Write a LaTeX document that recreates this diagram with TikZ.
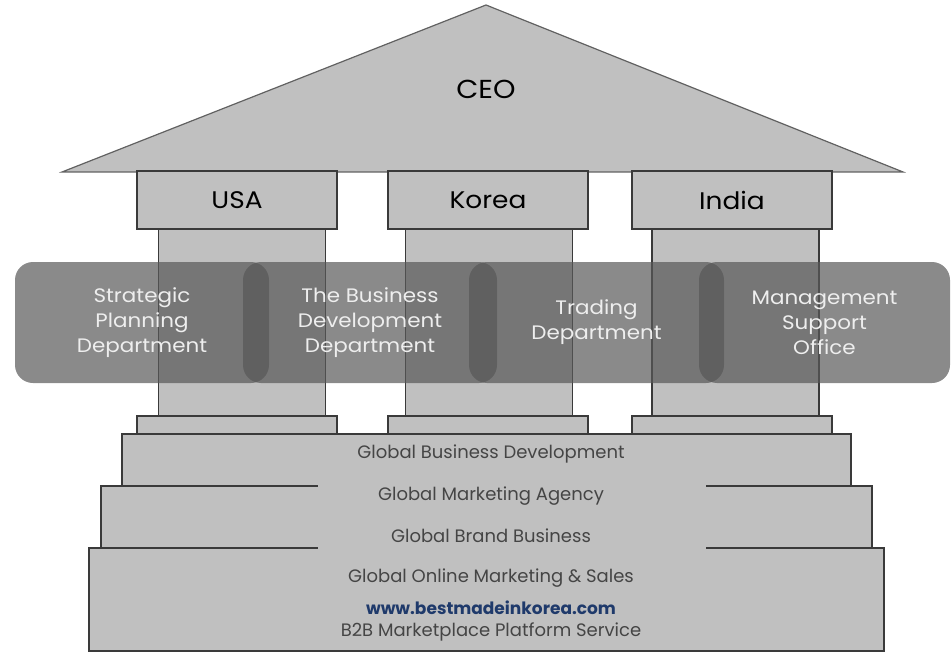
\documentclass[tikz,border=0pt]{standalone}
\usepackage{fontspec}
\setmainfont{Poppins}
\newfontfamily\widefont{Poppins}[FakeStretch=1.1]
\definecolor{partgray}{HTML}{C0C0C0}
\definecolor{edgegray}{HTML}{3A3A3A}
\definecolor{bandgray}{HTML}{585858}
\definecolor{bandtext}{HTML}{EEEEEE}
\definecolor{basetext}{HTML}{454545}
\definecolor{urlblue}{HTML}{1F3A6B}
\begin{document}
\begin{tikzpicture}[x=1pt,y=-1pt,
  part/.style={fill=partgray, draw=edgegray, line width=1.4pt},
  capbox/.style={part, minimum width=200pt, minimum height=58pt, inner sep=0pt, font=\widefont\fontsize{24}{28}\selectfont},
  shaft/.style={part, minimum width=167pt, minimum height=187pt, inner sep=0pt},
  basecap/.style={part, minimum width=200pt, minimum height=18pt, inner sep=0pt},
  band/.style={fill=bandgray, fill opacity=0.7, text opacity=1, rounded corners=18pt,
     minimum height=121pt, inner sep=0pt, text=bandtext, align=center,
     font=\widefont\fontsize{19.5}{25}\selectfont},
  steptext/.style={text=basetext, font=\fontsize{18}{20}\selectfont, inner sep=0pt},
]
\useasboundingbox (0,0) rectangle (952,652);
% roof
\draw[fill=partgray, draw=edgegray!80, line width=1.2pt, line join=miter] (62,172) -- (486,5) -- (903,172) -- cycle;
\node[font=\widefont\fontsize{26}{30}\selectfont] (ceo) at (486,89) {CEO};
% shafts
\node[shaft] (usashaft) at (242,322.5) {};
\node[shaft] (korshaft) at (489,322.5) {};
\node[shaft] (indshaft) at (735.5,322.5) {};
% caps
\node[capbox] (usa) at (237,200) {USA};
\node[capbox] (korea) at (488,200) {Korea};
\node[capbox] (india) at (732,200) {India};
% base caps
\node[basecap] (usabase) at (237,425) {};
\node[basecap] (korbase) at (488,425) {};
\node[basecap] (indbase) at (732,425) {};
% steps
\fill[partgray] (122,434) rectangle (851,487);
\fill[partgray] (101,486) rectangle (872,549);
\fill[partgray] (89,548) rectangle (884,651);
\draw[edgegray, line width=1.4pt, line join=miter]
  (122,434) -- (851,434) -- (851,486) -- (872,486) -- (872,548) -- (884,548)
  -- (884,651) -- (89,651) -- (89,548) -- (101,548) -- (101,486) -- (122,486) -- cycle;
\draw[edgegray, line width=1.4pt] (122,486) -- (318,486) (706,486) -- (851,486)
  (101,548) -- (318,548) (706,548) -- (872,548);
\node[steptext] (gbd) at (491,454) {Global Business Development};
\node[steptext] (gma) at (491,496) {Global Marketing Agency};
\node[steptext] (gbb) at (491,536) {Global Brand Business};
\node[steptext] (goms) at (491,578) {Global Online Marketing \& Sales};
\node[steptext, text=urlblue, font=\fontsize{17}{20}\selectfont\bfseries] (url) at (491,608) {www.bestmadeinkorea.com};
\node[steptext] (b2b) at (491,632) {B2B Marketplace Platform Service};
% band
\node[band, minimum width=254pt] (spd) at (142,322.5) {Strategic\\Planning\\Department};
\node[band, minimum width=254pt] (bdd) at (370,322.5) {The Business\\Development\\Department};
\node[band, minimum width=255pt] (trd) at (596.5,322.5) {Trading\\Department};
\node[band, minimum width=251pt] (mso) at (824.5,322.5) {Management\\Support\\Office};
\end{tikzpicture}
\end{document}
